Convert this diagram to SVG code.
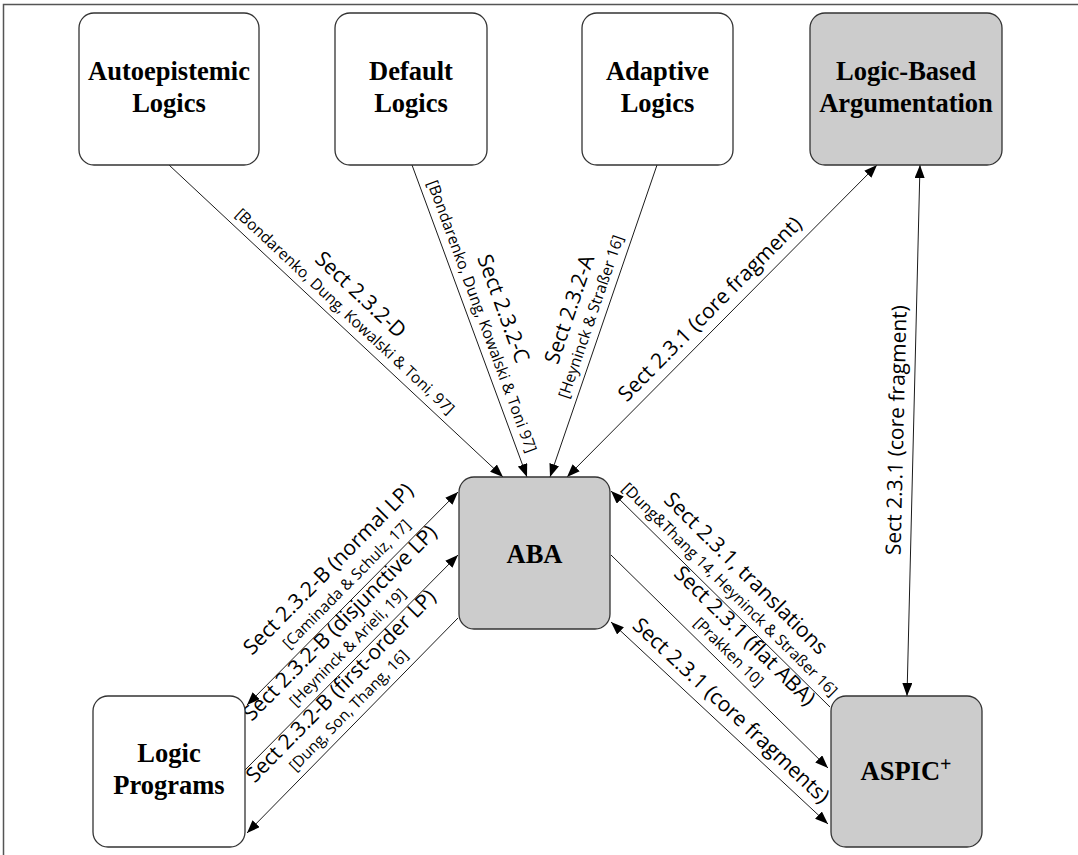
<svg xmlns="http://www.w3.org/2000/svg" width="1078" height="855" viewBox="0 0 1078 855">
<style>
.nb{fill:#fff;stroke:#333;stroke-width:1.3}
.ng{fill:#cccccc;stroke:#333;stroke-width:1.3}
.nt{font-family:"Liberation Serif","Times New Roman",serif;font-weight:bold;font-size:26.5px;fill:#000;text-anchor:middle}
.e{stroke:#000;stroke-width:0.9;fill:none}
.lb{font-family:"Open Sans","DejaVu Sans",sans-serif;font-size:21px;fill:#000;text-anchor:middle}
.ls{font-family:"Open Sans","DejaVu Sans",sans-serif;font-size:15.5px;fill:#000;text-anchor:middle}
</style>
<defs>
<marker id="ah" viewBox="0 0 13 10" refX="13" refY="5" markerWidth="13" markerHeight="10" markerUnits="userSpaceOnUse" orient="auto-start-reverse"><path d="M0,0 L13,5 L0,10 z" fill="#000"/></marker>
</defs>
<rect width="1078" height="855" fill="#fff"/>
<path d="M3.5,855 V4.5 H1078" fill="none" stroke="#555" stroke-width="1.5"/>

<g id="connectors">
<line class="e" x1="169" y1="165" x2="503" y2="477" marker-end="url(#ah)"/>
<line class="e" x1="412" y1="165" x2="527" y2="477" marker-end="url(#ah)"/>
<line class="e" x1="657" y1="165" x2="550" y2="477" marker-end="url(#ah)"/>
<line class="e" x1="567" y1="477" x2="877" y2="165" marker-start="url(#ah)" marker-end="url(#ah)"/>
<line class="e" x1="907" y1="696" x2="920" y2="165" marker-start="url(#ah)" marker-end="url(#ah)"/>
<line class="e" x1="458" y1="492" x2="247" y2="705" marker-start="url(#ah)" marker-end="url(#ah)"/>
<line class="e" x1="245" y1="770" x2="458" y2="555" marker-end="url(#ah)"/>
<line class="e" x1="458" y1="618" x2="247" y2="833" marker-end="url(#ah)"/>
<line class="e" x1="830" y1="707" x2="611" y2="491" marker-end="url(#ah)"/>
<line class="e" x1="611" y1="555" x2="828" y2="768" marker-end="url(#ah)"/>
<line class="e" x1="611" y1="622" x2="828" y2="824" marker-start="url(#ah)" marker-end="url(#ah)"/>

<text transform="translate(336,321) rotate(43.05)"><tspan class="lb" x="0" y="-29">Sect 2.3.2-D</tspan><tspan class="ls" x="0" y="-8">[Bondarenko, Dung, Kowalski &amp; Toni, 97]</tspan></text>
<text transform="translate(469.5,321) rotate(69.77)"><tspan class="lb" x="0" y="-29">Sect 2.3.2-C</tspan><tspan class="ls" x="0" y="-8">[Bondarenko, Dung, Kowalski &amp; Toni 97]</tspan></text>
<text transform="translate(603.5,321) rotate(-71.07)"><tspan class="lb" x="0" y="-29">Sect 2.3.2-A</tspan><tspan class="ls" x="0" y="-8">[Heyninck &amp; Straßer 16]</tspan></text>
<text class="lb" transform="translate(722,321) rotate(-45.18)" x="0" y="-10">Sect 2.3.1 (core fragment)</text>
<text class="lb" transform="translate(913.5,430.5) rotate(-88.6)" x="0" y="-10">Sect 2.3.1 (core fragment)</text>
<text transform="translate(352.5,598.5) rotate(-45.27)"><tspan class="lb" x="4" y="-31">Sect 2.3.2-B (normal LP)</tspan><tspan class="ls" x="6" y="-9">[Caminada &amp; Schulz, 17]</tspan></text>
<text transform="translate(351.5,662.5) rotate(-45.27)"><tspan class="lb" x="20" y="-29">Sect 2.3.2-B (disjunctive LP)</tspan><tspan class="ls" x="8" y="-8">[Heyninck &amp; Arieli, 19]</tspan></text>
<text transform="translate(352.5,725.5) rotate(-45.5)"><tspan class="lb" x="20" y="-29">Sect 2.3.2-B (first-order LP)</tspan><tspan class="ls" x="8" y="-8">[Dung, Son, Thang, 16]</tspan></text>
<text transform="translate(720.5,599) rotate(44.73)"><tspan class="lb" x="0" y="-29">Sect 2.3.1, translations</tspan><tspan class="ls" x="0" y="-8">[Dung&amp;Thang 14, Heyninck &amp; Straßer 16]</tspan></text>
<text transform="translate(719.5,661.5) rotate(44.6)"><tspan class="lb" x="0" y="-29">Sect 2.3.1 (flat ABA)</tspan><tspan class="ls" x="0" y="-8">[Prakken 10]</tspan></text>
<text class="lb" transform="translate(719.5,723) rotate(43.07)" x="0" y="-10">Sect 2.3.1 (core fragments)</text>
</g>

<g id="autoepistemic">
<rect class="nb" x="79" y="13" width="180" height="152" rx="15"/>
<text class="nt" x="169" y="80">Autoepistemic</text>
<text class="nt" x="169" y="112">Logics</text>
</g>
<g id="default">
<rect class="nb" x="335" y="13" width="152" height="152" rx="15"/>
<text class="nt" x="411" y="80">Default</text>
<text class="nt" x="411" y="112">Logics</text>
</g>
<g id="adaptive">
<rect class="nb" x="582" y="13" width="151" height="152" rx="15"/>
<text class="nt" x="657.5" y="80">Adaptive</text>
<text class="nt" x="657.5" y="112">Logics</text>
</g>
<g id="logic-based">
<rect class="ng" x="810" y="13" width="192" height="152" rx="15"/>
<text class="nt" x="906" y="80">Logic-Based</text>
<text class="nt" x="906" y="112">Argumentation</text>
</g>
<g id="aba">
<rect class="ng" x="459" y="477" width="151" height="152" rx="15"/>
<text class="nt" x="534.5" y="563">ABA</text>
</g>
<g id="logic-programs">
<rect class="nb" x="93" y="696" width="152" height="151" rx="15"/>
<text class="nt" x="169" y="762">Logic</text>
<text class="nt" x="169" y="794">Programs</text>
</g>
<g id="aspic">
<rect class="ng" x="831" y="696" width="151" height="151" rx="15"/>
<text class="nt" x="906" y="780">ASPIC<tspan font-size="20" dy="-9">+</tspan></text>
</g>
</svg>
